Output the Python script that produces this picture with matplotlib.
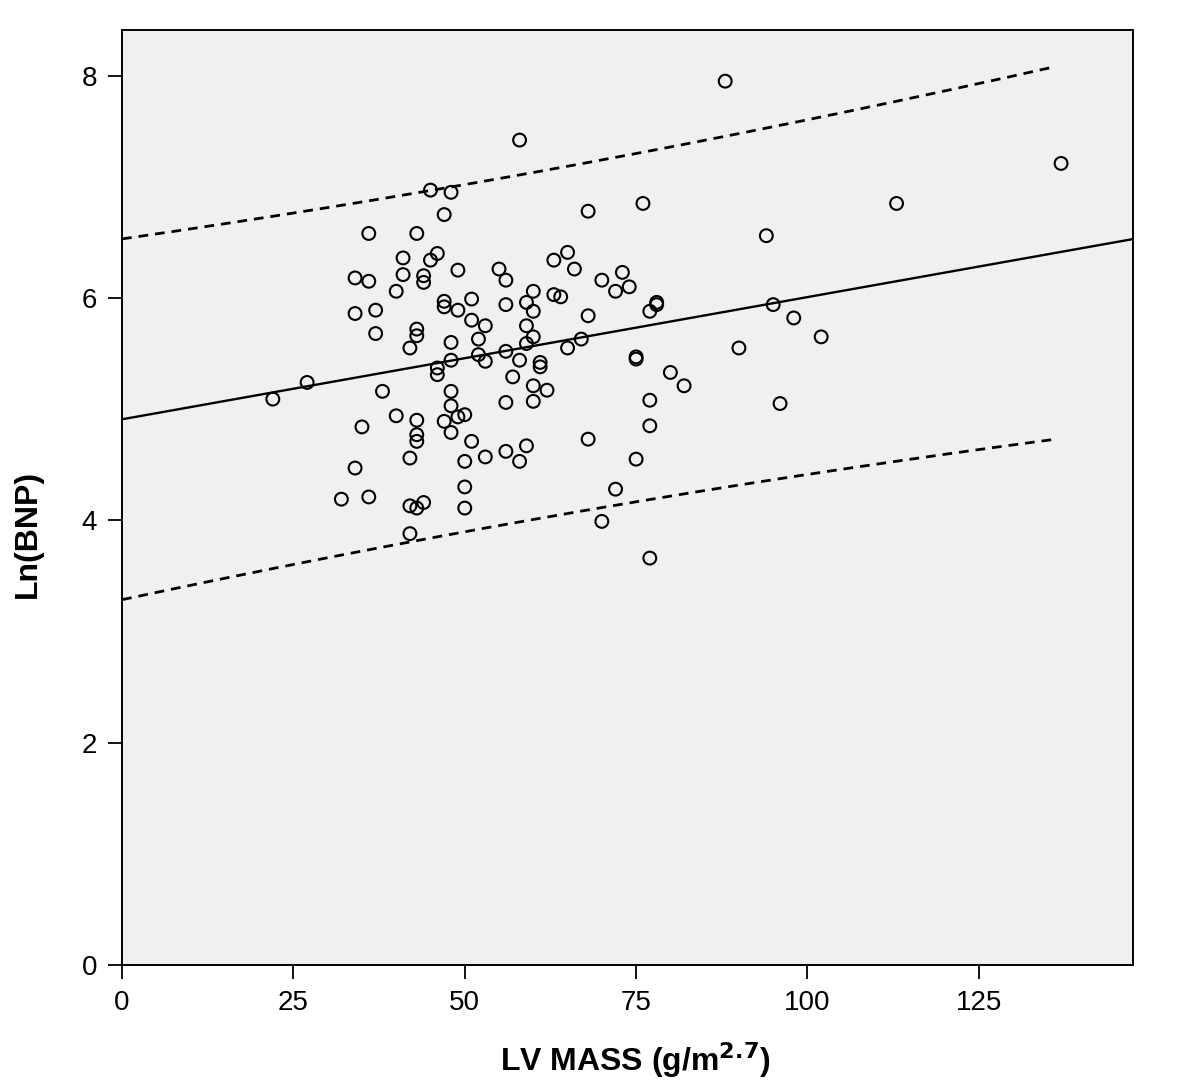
import numpy as np
import matplotlib
matplotlib.use("Agg")
import matplotlib.pyplot as plt

plt.rcParams['font.family'] = ['Liberation Sans', 'DejaVu Sans']

# LV mass index (g/m^2.7) and Ln(BNP)
lv_mass = [22, 27, 32, 34, 34, 34, 35, 36, 36, 36, 37, 37, 38, 40, 40, 41, 41,
           42, 42, 42, 42, 43, 43, 43, 43, 43, 43, 43, 44, 44, 44, 45, 45, 46,
           46, 46, 47, 47, 47, 47, 48, 48, 48, 48, 48, 48, 49, 49, 49, 50, 50,
           50, 50, 51, 51, 51, 52, 52, 53, 53, 53, 55, 56, 56, 56, 56, 56, 57,
           58, 58, 58, 59, 59, 59, 59, 60, 60, 60, 60, 60, 61, 61, 62, 63, 63,
           64, 65, 65, 66, 67, 68, 68, 68, 70, 70, 72, 72, 73, 74, 75, 75, 75,
           76, 77, 77, 77, 77, 78, 78, 80, 82, 88, 90, 94, 95, 96, 98, 102,
           113, 137]
ln_bnp = [5.09, 5.24, 4.19, 4.47, 5.86, 6.18, 4.84, 6.58, 6.15, 4.21, 5.68,
          5.89, 5.16, 6.06, 4.94, 6.21, 6.36, 5.55, 4.56, 4.13, 3.88, 6.58,
          5.66, 5.72, 4.90, 4.77, 4.71, 4.11, 6.20, 6.14, 4.16, 6.97, 6.34,
          6.40, 5.37, 5.31, 6.75, 5.97, 5.92, 4.89, 6.95, 5.60, 5.44, 5.16,
          5.03, 4.79, 6.25, 5.89, 4.93, 4.95, 4.53, 4.30, 4.11, 5.99, 5.80,
          4.71, 5.63, 5.49, 5.75, 5.43, 4.57, 6.26, 6.16, 5.94, 5.52, 5.06,
          4.62, 5.29, 7.42, 5.44, 4.53, 5.96, 5.75, 5.59, 4.67, 6.06, 5.88,
          5.65, 5.21, 5.07, 5.42, 5.38, 5.17, 6.34, 6.03, 6.01, 6.41, 5.55,
          6.26, 5.63, 6.78, 5.84, 4.73, 6.16, 3.99, 6.06, 4.28, 6.23, 6.10,
          5.47, 5.45, 4.55, 6.85, 5.88, 5.08, 4.85, 3.66, 5.96, 5.94, 5.33,
          5.21, 7.95, 5.55, 6.56, 5.94, 5.05, 5.82, 5.65, 6.85, 7.21]

x = np.array(lv_mass, dtype=float)
y = np.array(ln_bnp)

# linear fit + 95% prediction interval for individual values
n = len(x)
slope, intercept = np.polyfit(x, y, 1)
resid = y - (intercept + slope * x)
s = np.sqrt(np.sum(resid ** 2) / (n - 2))
sxx = np.sum((x - x.mean()) ** 2)
t_crit = 1.98

xmax_plot = 147.5
xf = np.linspace(0, xmax_plot, 200)
xp = np.linspace(0, x.max() - 1, 200)
half = t_crit * s * np.sqrt(1 + 1 / n + (xp - x.mean()) ** 2 / sxx)
yp = intercept + slope * xp

fig = plt.figure(figsize=(12, 10.84), dpi=100)
ax = fig.add_axes([0.1017, 0.1098, 0.8425, 0.8625])
ax.set_facecolor('#f0f0f0')

ax.plot(xf, intercept + slope * xf, color='black', lw=1.7)
ax.plot(xp, yp + half, color='black', lw=2.0, linestyle=(0, (3.5, 2.5)))
ax.plot(xp, yp - half, color='black', lw=2.0, linestyle=(0, (3.5, 2.5)))
ax.scatter(x, y, s=85, facecolors='none', edgecolors='black', linewidths=1.5, zorder=3)

ax.set_xlim(0, xmax_plot)
ax.set_ylim(0, 8.41)
ax.set_xticks([0, 25, 50, 75, 100, 125])
ax.set_yticks([0, 2, 4, 6, 8])
ax.tick_params(direction='out', length=10, width=1.3, labelsize=20, colors='black', pad=8)
for sp in ax.spines.values():
    sp.set_linewidth(1.4)

ax.set_xlabel('LV MASS (g/m$^{\\mathbf{2.7}}$)', fontsize=23, fontweight='bold')
ax.set_ylabel('Ln(BNP)', fontsize=23, fontweight='bold')
ax.xaxis.set_label_coords(0.508, -0.081)
ax.yaxis.set_label_coords(-0.078, 0.461)

fig.savefig('out.png', dpi=100, facecolor='white')
